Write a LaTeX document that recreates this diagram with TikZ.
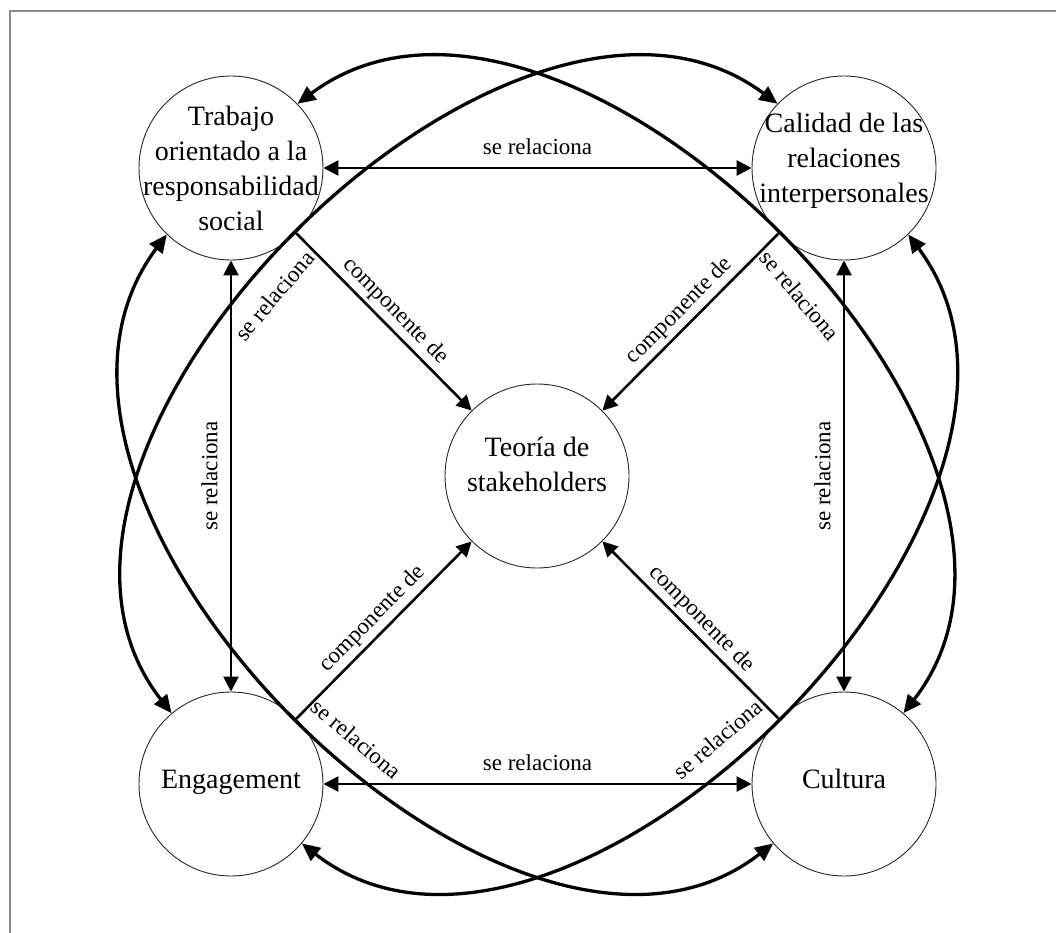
\documentclass[tikz,border=0pt]{standalone}
\usepackage{fontspec}
\setmainfont{Liberation Serif}
\usetikzlibrary{arrows.meta}
\definecolor{framegray}{RGB}{140,140,140}

\begin{document}
\begin{tikzpicture}[x=1pt,y=-1pt,
  topic/.style={circle, draw=black!85, fill=white, line width=0.9pt, minimum size=184pt, inner sep=0pt},
  ctext/.style={align=center, font=\fontsize{28}{35}\selectfont, inner sep=0pt},
  rel/.style={line width=2.6pt, {Triangle[length=15pt,width=15pt]}-{Triangle[length=15pt,width=15pt]}},
  comp/.style={line width=2.6pt, -{Triangle[length=15pt,width=15pt]}},
  bigarc/.style={line width=3.3pt, {Triangle[length=18pt,width=16pt]}-{Triangle[length=18pt,width=16pt]}},
  lab/.style={font=\fontsize{23}{27}\selectfont, inner sep=4pt},
  rlab/.style={lab, inner sep=12pt},
  alab/.style={lab, inner sep=14pt},
]
\useasboundingbox (0,0) rectangle (1056,933);

% frame
\draw[framegray, line width=1.5pt] (10,933) -- (10,11) -- (1056,11);

% concepts
\node[topic] (tl) at (231,168) {};
\node[topic] (tr) at (844,168) {};
\node[topic] (bl) at (231,784) {};
\node[topic] (br) at (844,784) {};
\node[topic] (st) at (537,476) {};
\node[ctext] (tl-t) at (231,168) {Trabajo\\orientado a la\\responsabilidad\\social};
\node[ctext] (tr-t) at (844,161) {Calidad de las\\relaciones\\interpersonales};
\node[ctext] (st-t) at (537,464) {Teoría de\\stakeholders};
\node[ctext] (bl-t) at (231,782) {Engagement};
\node[ctext] (br-t) at (844,779) {Cultura};

% large arcs between opposite corners
\draw[bigarc] (tl.44) .. controls (563,-95) and (1108,450) ..
  node[alab, pos=0.55, sloped, below] {se relaciona} (br.50);
\draw[bigarc] (tr.136) .. controls (511,-95) and (-34,450) ..
  node[alab, pos=0.55, sloped, below] {se relaciona} (bl.130);
\draw[bigarc] (tl.226) .. controls (-34,502) and (511,1047) ..
  node[alab, pos=0.55, sloped, above] {se relaciona} (br.220);
\draw[bigarc] (tr.314) .. controls (1108,502) and (563,1047) ..
  node[alab, pos=0.55, sloped, above] {se relaciona} (bl.320);

% sides of the square
\draw[rel] (tl) -- node[rlab, above] {se relaciona} (tr);
\draw[rel] (bl) -- node[rlab, above] {se relaciona} (br);
\draw[rel] (bl) -- node[rlab, sloped, above] {se relaciona} (tl);
\draw[rel] (br) -- node[rlab, sloped, above] {se relaciona} (tr);

% components of the central theory
\draw[comp] (tl.-45) -- node[lab, sloped, above] {componente de} (st.135);
\draw[comp] (tr.-135) -- node[lab, sloped, above] {componente de} (st.45);
\draw[comp] (bl.45) -- node[lab, sloped, above] {componente de} (st.-135);
\draw[comp] (br.135) -- node[lab, sloped, above] {componente de} (st.-45);
\end{tikzpicture}
\end{document}
